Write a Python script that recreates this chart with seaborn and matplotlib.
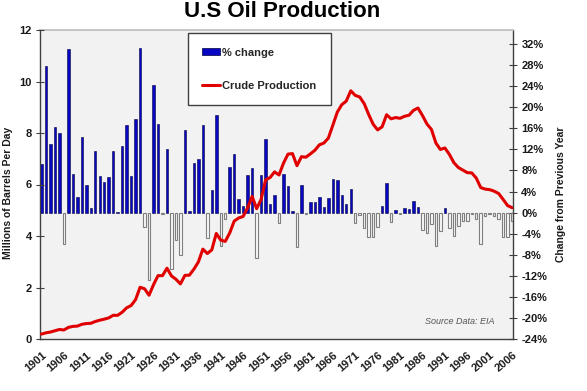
import numpy as np
import pandas as pd
import matplotlib
matplotlib.use("Agg")
import matplotlib.pyplot as plt
import seaborn as sns
from matplotlib.patches import Patch
from matplotlib.lines import Line2D

# ── Data ──────────────────────────────────────────────────────────────────────
YEARS = list(range(1901, 2007))

# year-on-year change, % (right axis)
PCT_CHANGE = [
    9.2, 27.8, 13.1, 16.3, 15.2, -6.0, 31.0, 7.3, 2.9, 14.3,      # 1901-1910
    5.3, 0.9, 11.7, 7.0, 5.8, 6.8, 11.7, 0.2, 12.7, 16.6,         # 1911-1920
    7.0, 17.8, 31.3, -2.8, -12.8, 24.2, 16.8, -0.2, 12.0, -10.8,  # 1921-1930
    -5.2, -8.0, 15.6, 0.3, 9.4, 10.2, 16.6, -4.9, 4.2, 18.5,      # 1931-1940
    -6.3, -1.3, 8.7, 11.2, 2.5, 1.3, 7.2, 8.5, -8.7, 7.2,         # 1941-1950
    13.9, 1.6, 3.4, -1.9, 7.3, 5.1, 0.3, -6.5, 5.2, -0.2,         # 1951-1960
    2.0, 2.0, 3.0, 1.0, 2.7, 6.3, 6.2, 3.3, 1.6, 4.4,             # 1961-1970
    -1.9, -0.4, -2.9, -4.7, -4.6, -2.8, 1.3, 5.6, -1.8, 0.4,      # 1971-1980
    -0.3, 0.8, 0.6, 2.2, 1.1, -3.3, -3.8, -2.2, -6.4, -3.5,       # 1981-1990
    0.8, -2.9, -4.5, -2.6, -1.6, -1.6, -0.2, -1.3, -5.9, -0.7,    # 1991-2000
    -0.3, -0.6, -1.2, -4.6, -4.6, -1.6,                           # 2001-2006
]

# crude production, million barrels per day (left axis)
CRUDE_MBD = [
    0.19, 0.24, 0.27, 0.32, 0.37, 0.35, 0.45, 0.49, 0.50, 0.57,   # 1901-1910
    0.60, 0.61, 0.68, 0.73, 0.77, 0.82, 0.92, 0.92, 1.04, 1.21,   # 1911-1920
    1.30, 1.53, 2.01, 1.95, 1.70, 2.11, 2.46, 2.46, 2.75, 2.45,   # 1921-1930
    2.32, 2.14, 2.47, 2.48, 2.71, 2.99, 3.49, 3.32, 3.46, 4.10,   # 1931-1940
    3.84, 3.79, 4.12, 4.58, 4.70, 4.76, 5.10, 5.54, 5.06, 5.42,   # 1941-1950
    6.18, 6.27, 6.49, 6.37, 6.83, 7.18, 7.20, 6.73, 7.08, 7.06,   # 1951-1960
    7.19, 7.33, 7.54, 7.61, 7.80, 8.30, 8.81, 9.10, 9.24, 9.64,   # 1961-1970
    9.46, 9.40, 9.14, 8.72, 8.34, 8.12, 8.24, 8.71, 8.55, 8.60,   # 1971-1980
    8.57, 8.65, 8.69, 8.88, 8.97, 8.68, 8.35, 8.14, 7.61, 7.36,   # 1981-1990
    7.42, 7.17, 6.85, 6.66, 6.56, 6.46, 6.45, 6.25, 5.88, 5.82,   # 1991-2000
    5.80, 5.74, 5.65, 5.42, 5.18, 5.10,                           # 2001-2006
]

PCT_TICKS = list(range(-24, 33, 4))
MBD_TICKS = list(range(0, 13, 2))
YEAR_TICKS = list(range(1901, 2007, 5))

BLUE = "#0808c4"
RED = "#e00000"
AXIS_GREY = "#404040"
TEXT = "#1a1a1a"

df = pd.DataFrame({"year": YEARS, "pct": PCT_CHANGE, "crude": CRUDE_MBD})

sns.set_theme(style="white")
plt.rcParams["font.family"] = ["Liberation Sans", "DejaVu Sans"]

W, H = 587, 391
fig = plt.figure(figsize=(W / 100, H / 100), dpi=100)
ax = fig.add_axes([40 / W, 1 - 339 / H, 473 / W, 309 / H])
ax.set_facecolor("#f2f2f2")

# ── bars: % change (drawn on the base axes, scale shown on the right) ────────
pos = df[df["pct"] >= 0]
neg = df[df["pct"] < 0]
sns.barplot(data=pos, x="year", y="pct", native_scale=True, errorbar=None,
            color=BLUE, saturation=1, edgecolor="#000040", linewidth=0.4,
            width=0.55, ax=ax)
sns.barplot(data=neg, x="year", y="pct", native_scale=True, errorbar=None,
            color="#f8f8f8", saturation=1, edgecolor="#7f7f7f", linewidth=0.8,
            width=0.55, ax=ax)

ax.set_xlim(1900.67, 2006.2)
ax.set_ylim(-24, 34.66)

# ── line: crude production on a twin axis (scale shown on the left) ──────────
ax2 = ax.twinx()
sns.lineplot(data=df, x="year", y="crude", color=RED, linewidth=2.2,
             solid_joinstyle="round", solid_capstyle="round", ax=ax2)
ax2.set_ylim(0, 12)

ax.yaxis.tick_right()
ax.yaxis.set_label_position("right")
ax2.yaxis.tick_left()
ax2.yaxis.set_label_position("left")

tick_font = dict(fontsize=8, fontweight="bold", color=TEXT)
ax.set_yticks(PCT_TICKS)
ax.set_yticklabels([f"{v}%" for v in PCT_TICKS], **tick_font)
ax2.set_yticks(MBD_TICKS)
ax2.set_yticklabels([str(v) for v in MBD_TICKS], **tick_font)
ax.set_xticks(YEAR_TICKS)
ax.set_xticklabels([str(v) for v in YEAR_TICKS], rotation=40, ha="right",
                   rotation_mode="anchor", **tick_font)

for a in (ax, ax2):
    a.tick_params(direction="inout", length=6, width=0.8, color=AXIS_GREY, pad=3)
ax.tick_params(axis="x", pad=5)

ax.set_xlabel("")
ax.set_ylabel("Change from Previous Year", fontsize=7.5, fontweight="bold",
              color=TEXT)
ax.yaxis.set_label_coords(1.091, 0.468)
ax2.set_xlabel("")
ax2.set_ylabel("Millions of Barrels Per Day", fontsize=7.5, fontweight="bold",
               color=TEXT)
ax2.yaxis.set_label_coords(-0.057, 0.472)

for side in ("left", "right", "bottom"):
    ax.spines[side].set_color(AXIS_GREY)
    ax.spines[side].set_linewidth(1.0)
ax.spines["top"].set_color("#bfbfbf")
for s in ax2.spines.values():
    s.set_visible(False)

# ── legend ──────────────────────────────────────────────────────────────────
handles = [Patch(facecolor=BLUE, edgecolor="#000040", linewidth=0.5),
           Line2D([0], [0], color=RED, linewidth=2.2)]
leg = ax2.legend(handles, ["% change", "Crude Production"],
                 loc="upper left", bbox_to_anchor=(0.313, 0.99),
                 prop=dict(size=8, weight="bold"), frameon=True, fancybox=False,
                 framealpha=1, edgecolor=AXIS_GREY, handlelength=1.6,
                 handleheight=0.6, handletextpad=0.2, borderpad=1.3,
                 labelspacing=2.1, borderaxespad=0)
leg.get_frame().set_linewidth(1.0)

ax.text(0.815, 0.058, "Source Data: EIA", transform=ax.transAxes,
        fontsize=6.5, style="italic", color="#555555", va="center", ha="left")

fig.text(0.48, 0.997, "U.S Oil Production", ha="center", va="top",
         fontsize=16, fontweight="bold", color="black")

fig.savefig("out.png", dpi=100, facecolor="white")
